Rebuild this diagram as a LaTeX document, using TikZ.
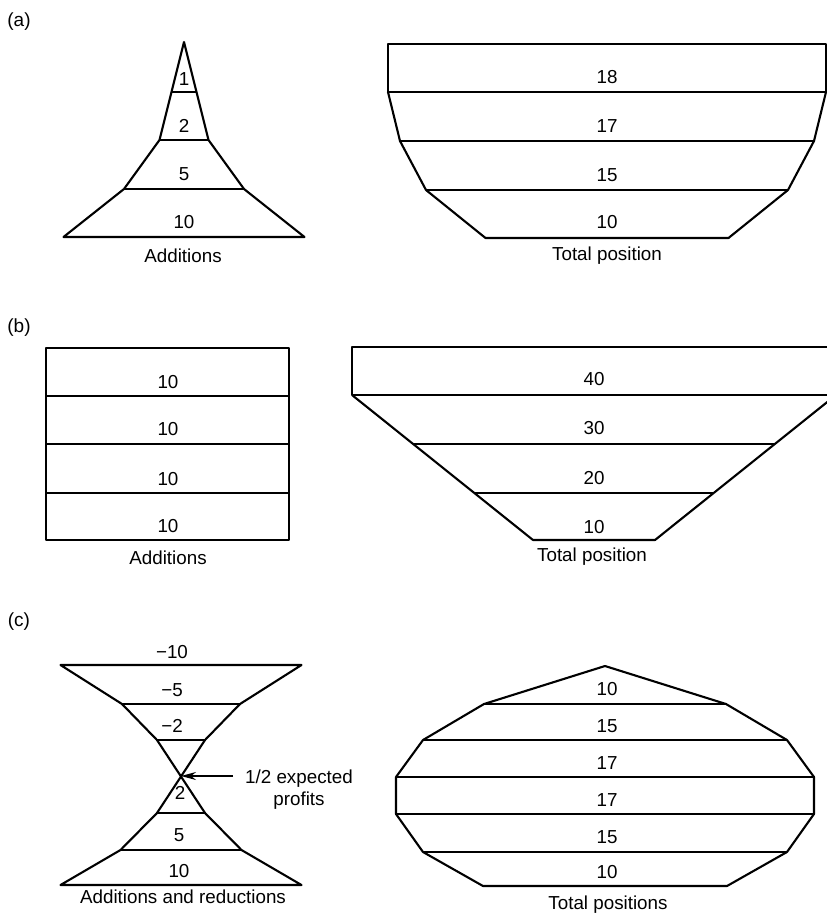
\documentclass[tikz,border=0pt]{standalone}
\usepackage{fontspec}
\setmainfont{Liberation Sans}
\usetikzlibrary{arrows.meta}
\begin{document}
\begin{tikzpicture}[x=1pt,y=-1pt,
  shp/.style={draw=black,line width=2.1pt,line join=round},
  sep/.style={draw=black,line width=2.1pt},
  lbl/.style={inner sep=0pt,font=\fontsize{18.8}{22}\selectfont},
  tag/.style={inner sep=0pt,font=\fontsize{19}{22}\selectfont}]
\useasboundingbox (0,0) rectangle (827,916);
\clip (0,0) rectangle (827,916);
% ---------- (a) ----------
\node[tag] (ta) at (19,22) {(a)};
\draw[shp] (184,42) -- (208.5,140) -- (244,189) -- (304.5,237) -- (63.5,237) -- (124,189) -- (159.5,140) -- cycle;
\draw[sep] (171.5,92) -- (196.5,92);
\draw[sep] (159.5,140) -- (208.5,140);
\draw[sep] (124,189) -- (244,189);
\node[lbl] (a1) at (184,79) {1};
\node[lbl] (a2) at (184,126) {2};
\node[lbl] (a3) at (184,174) {5};
\node[lbl] (a4) at (184,222) {10};
\node[lbl] (aadd) at (183,256) {Additions};
\draw[shp] (388,44) rectangle (826,92);
\draw[shp] (388,92) -- (400,141) -- (426,190) -- (485.5,238) -- (728.5,238) -- (788,190) -- (814,141) -- (826,92);
\draw[sep] (400,141) -- (814,141);
\draw[sep] (426,190) -- (788,190);
\node[lbl] (b1) at (607,77) {18};
\node[lbl] (b2) at (607,126) {17};
\node[lbl] (b3) at (607,175) {15};
\node[lbl] (b4) at (607,222) {10};
\node[lbl] (atot) at (607,256) {Total position};
% ---------- (b) ----------
\node[tag] (tb) at (19,328) {(b)};
\draw[shp] (46,348) rectangle (289,540);
\draw[sep] (46,396) -- (289,396);
\draw[sep] (46,444) -- (289,444);
\draw[sep] (46,493) -- (289,493);
\node[lbl] (c1) at (168,382) {10};
\node[lbl] (c2) at (168,429) {10};
\node[lbl] (c3) at (168,479) {10};
\node[lbl] (c4) at (168,526) {10};
\node[lbl] (badd) at (168,558) {Additions};
\draw[shp] (352,347) rectangle (838,395);
\draw[shp] (352,395) -- (533,540) -- (655,540) -- (836,395);
\draw[sep] (413,444) -- (775,444);
\draw[sep] (474,493) -- (714,493);
\node[lbl] (d1) at (594,379) {40};
\node[lbl] (d2) at (594,428) {30};
\node[lbl] (d3) at (594,478) {20};
\node[lbl] (d4) at (594,527) {10};
\node[lbl] (btot) at (592,557) {Total position};
% ---------- (c) ----------
\node[tag] (tc) at (19,622) {(c)};
\draw[shp] (60.5,665) -- (301.5,665) -- (240,704) -- (205,740) -- (157,813) -- (120.5,850) -- (60.5,885) -- (301.5,885) -- (241.5,850) -- (205,813) -- (157,740) -- (122,704) -- cycle;
\draw[sep] (122,704) -- (240,704);
\draw[sep] (157,740) -- (205,740);
\draw[sep] (157,813) -- (205,813);
\draw[sep] (120.5,850) -- (241.5,850);
\coordinate (cross) at (181,776);
\node[lbl] (e0) at (172,652) {−10};
\node[lbl] (e1) at (172,690) {−5};
\node[lbl] (e2) at (172,726) {−2};
\node[lbl] (e3) at (180,793) {2};
\node[lbl] (e4) at (179,835) {5};
\node[lbl] (e5) at (179,871) {10};
\node[lbl] (cadd) at (183,897) {Additions and reductions};
\node[lbl,align=center] (half) at (299,790) {1/2 expected\\profits};
\coordinate (arrs) at (233,776);
\draw[line width=1.6pt,-{Stealth[length=15pt,width=8pt]}] (arrs) -- (cross);
\draw[shp] (605,666) -- (726,704) -- (787,740) -- (814,777) -- (814,814) -- (787,852) -- (727,886) -- (483,886) -- (423,852) -- (396,814) -- (396,777) -- (423,740) -- (484,704) -- cycle;
\draw[sep] (484,704) -- (726,704);
\draw[sep] (423,740) -- (787,740);
\draw[sep] (396,777) -- (814,777);
\draw[sep] (396,814) -- (814,814);
\draw[sep] (423,852) -- (787,852);
\node[lbl] (f1) at (607,689) {10};
\node[lbl] (f2) at (607,726) {15};
\node[lbl] (f3) at (607,763) {17};
\node[lbl] (f4) at (607,800) {17};
\node[lbl] (f5) at (607,837) {15};
\node[lbl] (f6) at (607,872) {10};
\node[lbl] (ctot) at (608,905) {Total positions};
\end{tikzpicture}
\end{document}
